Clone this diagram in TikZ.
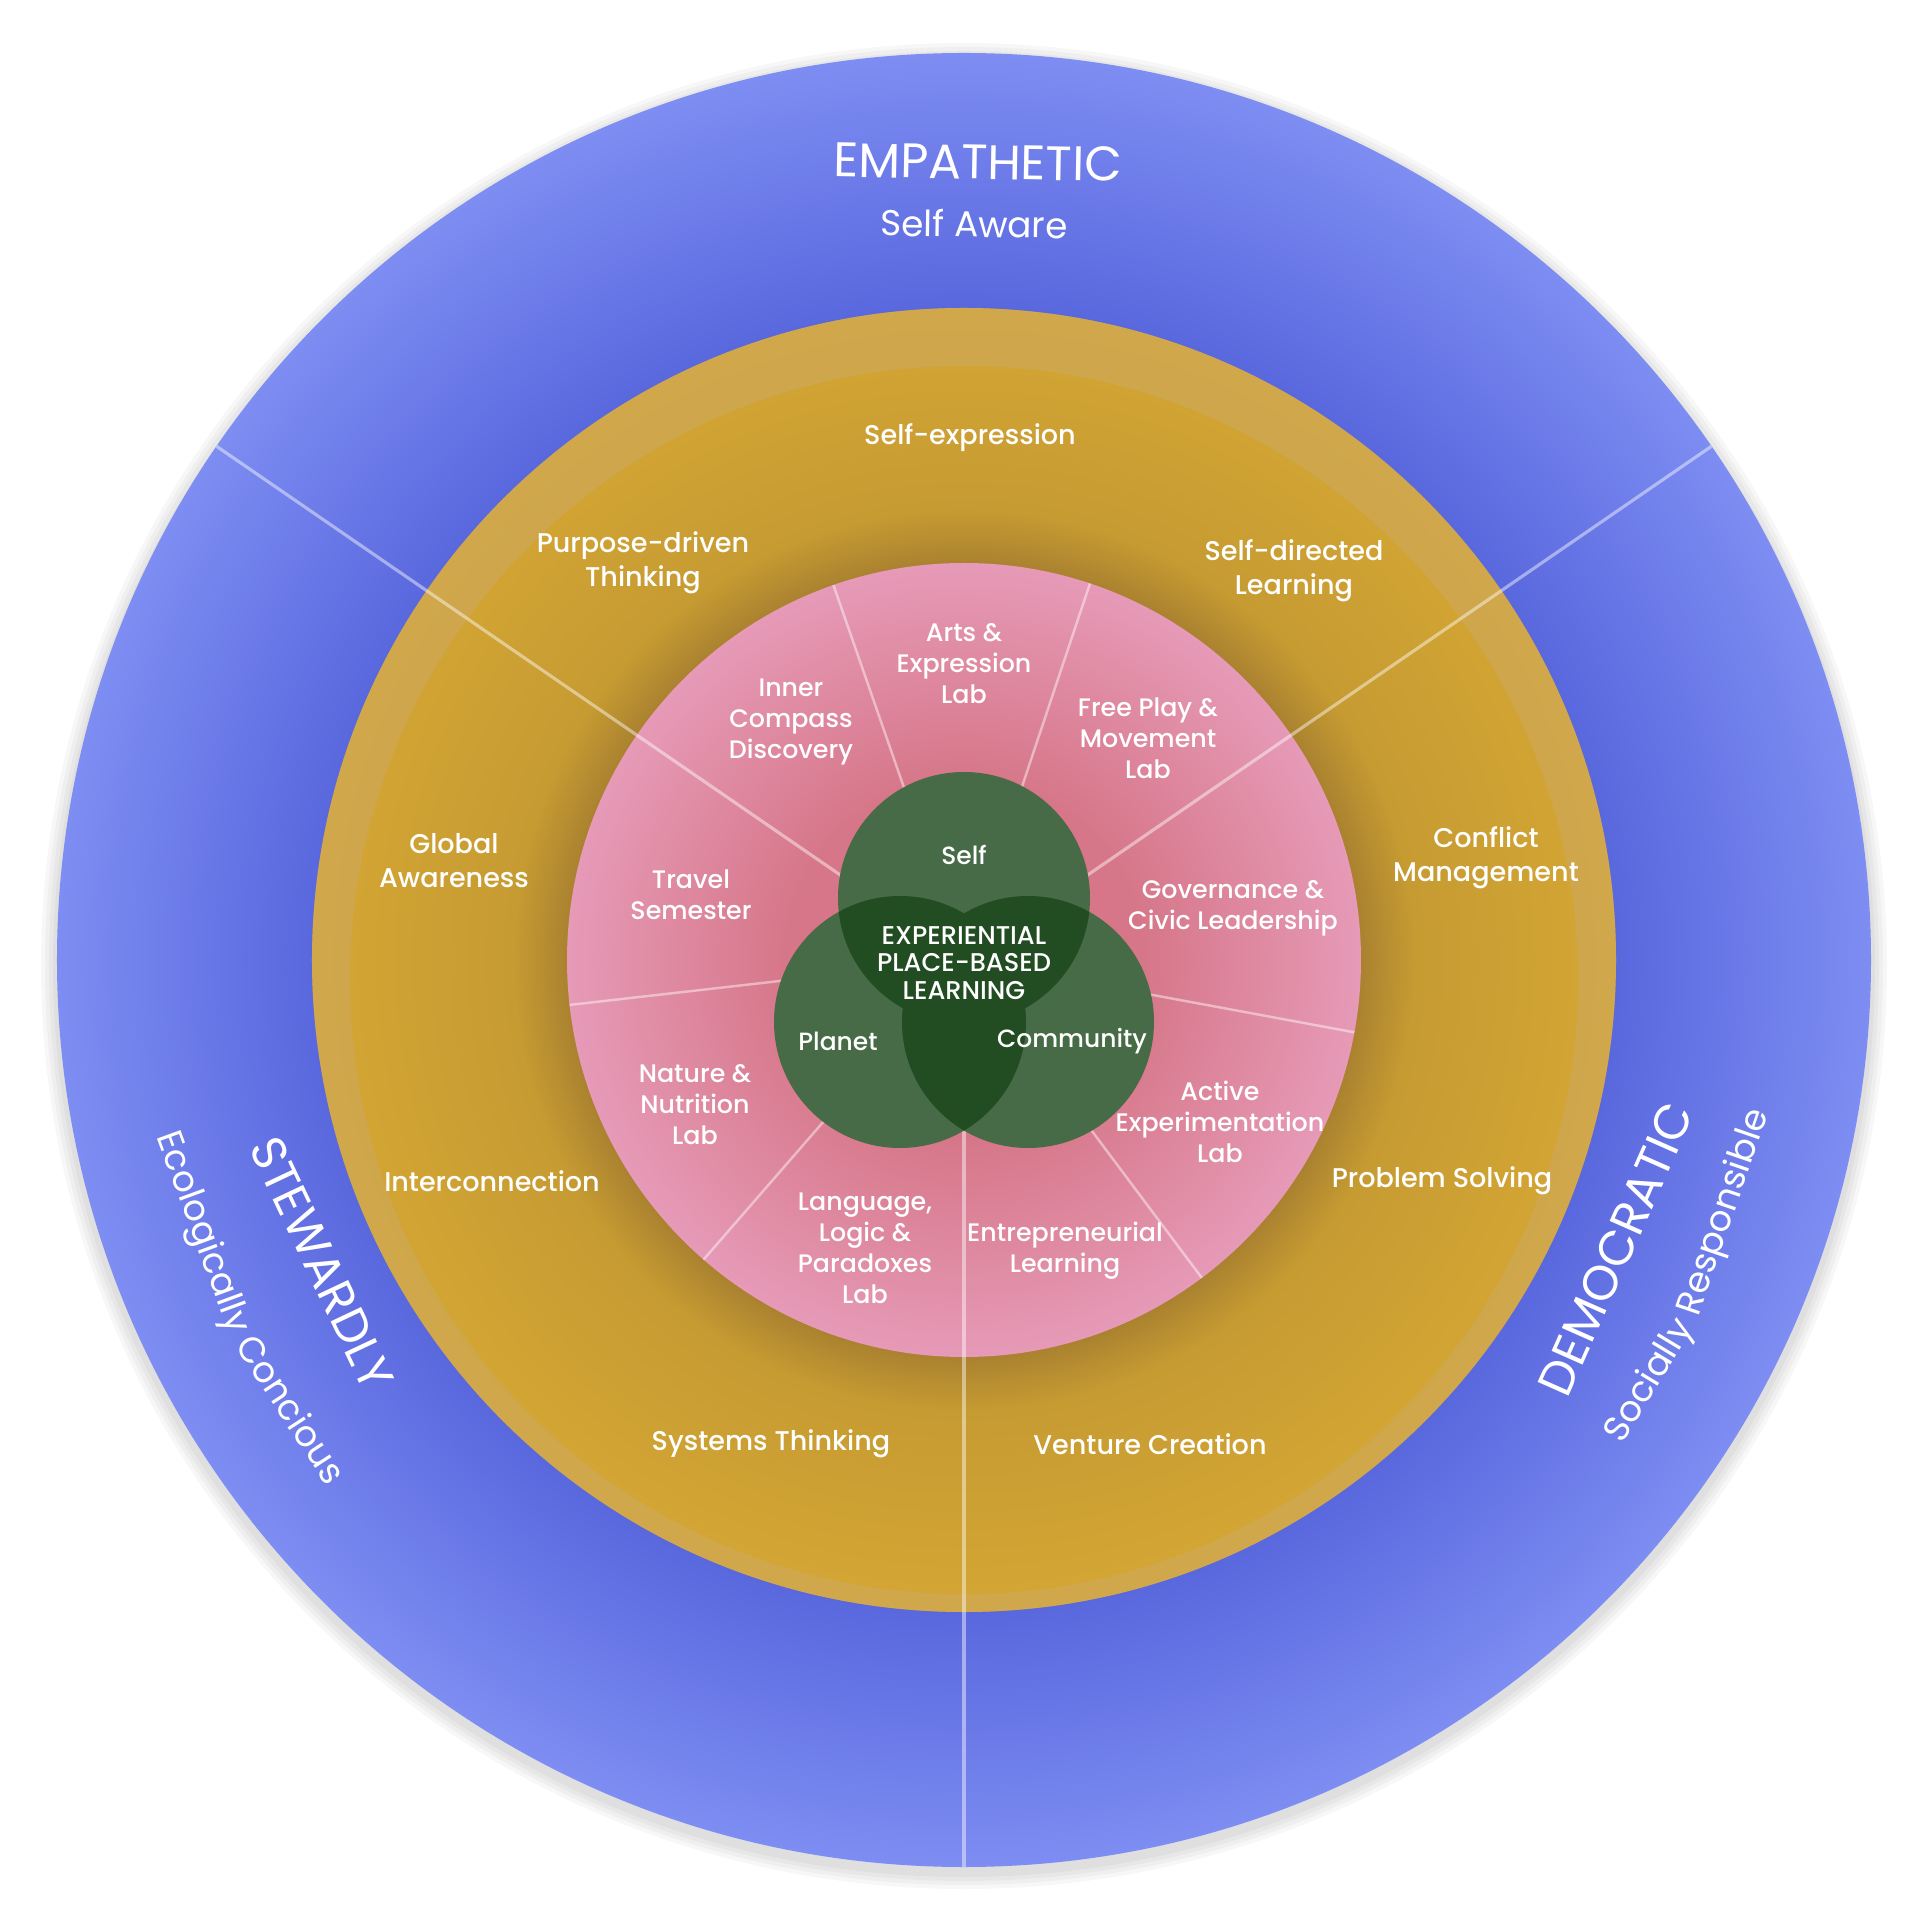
\documentclass[tikz,border=0pt]{standalone}
\usepackage{fontspec}
\setmainfont{Poppins}
\newfontfamily\medfont{Poppins Medium}

\definecolor{blueD}{RGB}{90,104,222}
\definecolor{blueL}{RGB}{125,141,242}
\definecolor{goldD}{RGB}{170,130,48}
\definecolor{goldM}{RGB}{198,155,50}
\definecolor{goldL}{RGB}{212,166,52}
\definecolor{goldband}{RGB}{205,170,105}
\definecolor{pinkD}{RGB}{214,118,136}
\definecolor{pinkL}{RGB}{230,154,183}
\definecolor{venn}{RGB}{71,107,70}
\definecolor{vennD}{RGB}{34,76,34}

% radius 25bp is the edge of the shaded circle
\pgfdeclareradialshading{bluering}{\pgfpoint{0bp}{0bp}}{color(0bp)=(blueD); color(18bp)=(blueD); color(25bp)=(blueL); color(50bp)=(blueL)}
\pgfdeclareradialshading{goldring}{\pgfpoint{0bp}{0bp}}{color(0bp)=(goldD); color(15.2bp)=(goldD); color(17.3bp)=(goldM); color(25bp)=(goldL); color(50bp)=(goldL)}
\pgfdeclareradialshading{pinkdisc}{\pgfpoint{0bp}{0bp}}{color(0bp)=(pinkD); color(11bp)=(pinkD); color(25bp)=(pinkL); color(50bp)=(pinkL)}

\newcommand{\titlefont}{\fontsize{13.8}{15}\selectfont}
\newcommand{\subtitlefont}{\fontsize{10.2}{12}\selectfont}

\begin{document}
\begin{tikzpicture}[
  mainline/.style={white, opacity=0.45, line width=0.9pt},
  divider/.style={white, opacity=0.45, line width=0.7pt},
  titletext/.style={text=white, anchor=base, font=\titlefont, inner sep=0pt},
  subtext/.style={text=white, anchor=base, font=\subtitlefont, inner sep=0pt},
  ringtext/.style={text=white, align=center, font=\medfont\fontsize{7.7}{9.7}\selectfont, inner sep=0pt},
  labtext/.style={text=white, align=center, font=\medfont\fontsize{7.2}{8.8}\selectfont, inner sep=0pt},
  venntext/.style={text=white, font=\medfont\fontsize{7.1}{9}\selectfont, inner sep=0pt},
  coretext/.style={text=white, align=center, font=\medfont\fontsize{7.3}{7.8}\selectfont, inner sep=0pt}
]
\path[use as bounding box, fill=white] (-9.64,-9.57) rectangle (9.59,9.60);
\coordinate (o) at (0,0);

% Soft shadow under the outer ring
\foreach \r in {9.11,9.15,9.19,9.23}
  \fill[black, opacity=0.03] (0,-0.06) circle (\r);

% Rings
\shade[shading=bluering] (o) circle (9.07);
\shade[shading=goldring] (o) circle (6.52);
\fill[goldband, fill opacity=0.45, even odd rule] (o) circle (6.52) (0,-0.2) circle (6.14);
\shade[shading=pinkdisc] (o) circle (3.97);

% Sector lines
\foreach \a in {71.5,109.2,186.5,229,306.8,349.5}
  \draw[divider] (o) -- (\a:3.97);
\foreach \a in {34.5,145.5,270}
  \draw[mainline] (o) -- (\a:9.07);

% Venn circles
\coordinate (self) at (0,0.62);
\coordinate (planet) at (-0.64,-0.62);
\coordinate (community) at (0.64,-0.62);
\fill[venn] (self) circle (1.26) (planet) circle (1.26) (community) circle (1.26);
\begin{scope}
  \clip (self) circle (1.26);
  \fill[vennD] (planet) circle (1.26) (community) circle (1.26);
\end{scope}
\begin{scope}
  \clip (planet) circle (1.26);
  \fill[vennD] (community) circle (1.26);
\end{scope}

% Outer ring titles
\node[titletext, rotate=-1] (empathetic) at (89:7.81) {EMPATHETIC};
\node[subtext, rotate=-0.8] (selfaware) at (89.2:7.23) {Self Aware};
\node[titletext, rotate=295.3] (stewardly) at (205.3:7.27) {STEWARDLY};
\node[subtext, anchor=base east, rotate=290.1] (ecological) at (207.1:8.25) {Ecologically};
\node[subtext, anchor=base west, rotate=303.1] (concious) at (207.8:8.25) {Concious};
\node[titletext, rotate=66.1] (democratic) at (336.1:7.3) {DEMOCRATIC};
\node[subtext, anchor=base east, rotate=58.8] (socially) at (333.3:8.17) {Socially};
\node[subtext, anchor=base west, rotate=71.1] (responsible) at (334.0:8.17) {Responsible};

% Gold ring labels
\node[ringtext] (selfexpr) at (0.06,5.22) {Self-expression};
\node[ringtext] (purpose) at (-3.21,3.97) {Purpose-driven\\Thinking};
\node[ringtext] (selfdir) at (3.30,3.89) {Self-directed\\Learning};
\node[ringtext] (global) at (-5.10,0.99) {Global\\Awareness};
\node[ringtext] (conflict) at (5.22,1.02) {Conflict\\Management};
\node[ringtext] (intercon) at (-4.72,-2.21) {Interconnection};
\node[ringtext] (problem) at (4.78,-2.21) {Problem Solving};
\node[ringtext] (systems) at (-1.93,-4.84) {Systems Thinking};
\node[ringtext] (venture) at (1.86,-4.84) {Venture Creation};

% Lab labels
\node[labtext] (arts) at (0,2.96) {Arts \&\\Expression\\Lab};
\node[labtext] (inner) at (-1.73,2.38) {Inner\\Compass\\Discovery};
\node[labtext] (freeplay) at (1.84,2.22) {Free Play \&\\Movement\\Lab};
\node[labtext] (travel) at (-2.73,0.65) {Travel\\Semester};
\node[labtext] (govern) at (2.69,0.52) {Governance \&\\Civic Leadership};
\node[labtext] (nature) at (-2.69,-1.45) {Nature \&\\Nutrition\\Lab};
\node[labtext] (active) at (2.56,-1.62) {Active\\Experimentation\\Lab};
\node[labtext] (language) at (-0.99,-2.88) {Language,\\Logic \&\\Paradoxes\\Lab};
\node[labtext] (entre) at (1.01,-2.91) {Entrepreneurial\\Learning};

% Venn labels
\node[venntext] (selflabel) at (0,1.05) {Self};
\node[venntext] (planetlabel) at (-1.26,-0.81) {Planet};
\node[venntext] (communitylabel) at (1.08,-0.81) {Community};
\node[coretext] (core) at (0,-0.03) {EXPERIENTIAL\\PLACE-BASED\\LEARNING};
\end{tikzpicture}
\end{document}
